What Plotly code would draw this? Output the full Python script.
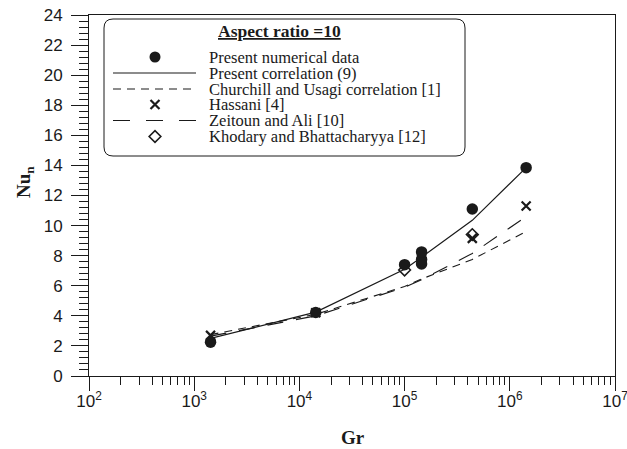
import plotly.graph_objects as go

# ---------------- data ----------------
gr_corr = [1.43e3, 1.43e4, 1.0e5, 1.45e5, 4.4e5, 1.43e6]
nu_present_corr = [2.5, 4.25, 7.1, 7.9, 10.35, 13.85]
nu_churchill = [2.75, 4.1, 5.95, 6.45, 7.75, 9.6]
nu_zeitoun = [2.65, 4.0, 5.9, 6.4, 8.15, 10.6]

gr_num = [1.43e3, 1.43e4, 1.0e5, 1.45e5, 1.45e5, 1.45e5, 4.4e5, 1.43e6]
nu_num = [2.25, 4.22, 7.4, 7.45, 7.75, 8.25, 11.1, 13.85]

gr_hassani = [1.43e3, 1.43e4, 1.45e5, 4.4e5, 1.43e6]
nu_hassani = [2.7, 4.2, 7.8, 9.15, 11.3]

gr_khodary = [1.0e5, 4.4e5]
nu_khodary = [7.05, 9.4]

x_tickvals = [1e2, 1e3, 1e4, 1e5, 1e6, 1e7]
x_ticktext = ["10<sup>2</sup>", "10<sup>3</sup>", "10<sup>4</sup>",
              "10<sup>5</sup>", "10<sup>6</sup>", "10<sup>7</sup>"]
y_tickvals = list(range(0, 25, 2))

legend_labels = ["Present numerical data", "Present correlation (9)",
                 "Churchill and Usagi correlation [1]", "Hassani [4]",
                 "Zeitoun and Ali [10]", "Khodary and Bhattacharyya [12]"]
legend_title = "Aspect ratio =10"

# ---------------- layout geometry ----------------
W, H = 627, 449
L, R, T, B = 89, 615, 15, 376  # plot area in pixels
INK = "#1a1a1a"
SERIF = "Liberation Serif"
SANS = "Liberation Sans"


def px_to_paper_x(px):
    return (px - L) / (R - L)


def px_to_paper_y(py):
    return (B - py) / (B - T)


fig = go.Figure()

# correlations
fig.add_trace(go.Scatter(x=gr_corr, y=nu_present_corr, mode="lines",
                         line=dict(color=INK, width=1.2), showlegend=False))
fig.add_trace(go.Scatter(x=gr_corr, y=nu_churchill, mode="lines",
                         line=dict(color=INK, width=1.1, dash="8px,6px"), showlegend=False))
fig.add_trace(go.Scatter(x=gr_corr, y=nu_zeitoun, mode="lines",
                         line=dict(color=INK, width=1.1, dash="16px,13px"), showlegend=False))
# data markers
fig.add_trace(go.Scatter(x=gr_hassani, y=nu_hassani, mode="markers",
                         marker=dict(symbol="x-thin-open", size=9, color=INK,
                                     line=dict(width=2.2, color=INK)),
                         showlegend=False))
fig.add_trace(go.Scatter(x=gr_khodary, y=nu_khodary, mode="markers",
                         marker=dict(symbol="diamond-open", size=9, color=INK,
                                     line=dict(width=1.6, color=INK)),
                         showlegend=False))
fig.add_trace(go.Scatter(x=gr_num, y=nu_num, mode="markers",
                         marker=dict(symbol="circle", size=11.5, color=INK,
                                     line=dict(width=0)),
                         showlegend=False))

# ---------------- custom legend (pixel-space overlay axes) ----------------
box_x0, box_x1, box_y0, box_y1, rad = 104, 465, 19, 156, 9
path = (f"M {box_x0+rad},{box_y0} L {box_x1-rad},{box_y0} Q {box_x1},{box_y0} {box_x1},{box_y0+rad} "
        f"L {box_x1},{box_y1-rad} Q {box_x1},{box_y1} {box_x1-rad},{box_y1} "
        f"L {box_x0+rad},{box_y1} Q {box_x0},{box_y1} {box_x0},{box_y1-rad} "
        f"L {box_x0},{box_y0+rad} Q {box_x0},{box_y0} {box_x0+rad},{box_y0} Z")
shapes = [dict(type="path", path=path, xref="x2", yref="y2",
               line=dict(color=INK, width=1), fillcolor="rgba(0,0,0,0)", layer="above")]

row_y = [57, 73, 89, 104.5, 120.5, 136.5]
sym_x0, sym_x1, sym_xc = 113, 196, 155
text_x = 207

# line samples
for yy, dash in [(row_y[1], "solid"), (row_y[2], "8px,6px"), (row_y[4], "17px,16px")]:
    fig.add_trace(go.Scatter(x=[sym_x0, sym_x1], y=[yy, yy], mode="lines",
                             xaxis="x2", yaxis="y2", cliponaxis=False,
                             line=dict(color=INK, width=1.1, dash=dash), showlegend=False))
# marker samples
fig.add_trace(go.Scatter(x=[sym_xc], y=[row_y[0]], mode="markers", xaxis="x2", yaxis="y2",
                         marker=dict(symbol="circle", size=11, color=INK), showlegend=False))
fig.add_trace(go.Scatter(x=[sym_xc], y=[row_y[3]], mode="markers", xaxis="x2", yaxis="y2",
                         marker=dict(symbol="x-thin-open", size=9, color=INK,
                                     line=dict(width=2.2, color=INK)), showlegend=False))
fig.add_trace(go.Scatter(x=[sym_xc], y=[row_y[5]], mode="markers", xaxis="x2", yaxis="y2",
                         marker=dict(symbol="diamond-open", size=9, color=INK,
                                     line=dict(width=1.6, color=INK)), showlegend=False))

annotations = []
for lab, yy in zip(legend_labels, row_y):
    annotations.append(dict(x=text_x, y=yy, xref="x2", yref="y2", text=lab,
                            showarrow=False, xanchor="left", yanchor="middle",
                            font=dict(family=SERIF, size=16.5, color=INK)))
annotations.append(dict(x=279, y=31, xref="x2", yref="y2",
                        text=f"<b><u>{legend_title}</u></b>", showarrow=False,
                        xanchor="center", yanchor="middle",
                        font=dict(family=SERIF, size=17.5, color=INK)))

# axis titles
annotations.append(dict(x=px_to_paper_x(353), y=px_to_paper_y(437), xref="paper", yref="paper",
                        text="<b>Gr</b>", showarrow=False, xanchor="center", yanchor="middle",
                        font=dict(family=SERIF, size=19, color=INK)))
annotations.append(dict(x=px_to_paper_x(25), y=px_to_paper_y(182), xref="paper", yref="paper",
                        text="<b>Nu<sub>n</sub></b>", showarrow=False, textangle=-90,
                        xanchor="center", yanchor="middle",
                        font=dict(family=SERIF, size=19, color=INK)))

x_minor = [k * 10 ** d for d in range(2, 7) for k in range(2, 10)]

fig.update_layout(
    width=W, height=H,
    margin=dict(l=L, r=W - R, t=T, b=H - B, pad=0, autoexpand=False),
    paper_bgcolor="white", plot_bgcolor="white",
    shapes=shapes, annotations=annotations,
    xaxis=dict(type="log", range=[2, 7], tickmode="array", tickvals=x_tickvals,
               ticktext=x_ticktext, ticks="outside", ticklen=14, tickwidth=1,
               tickcolor=INK, showline=True, linecolor=INK, linewidth=1, mirror=True,
               showgrid=False, zeroline=False, ticklabeloverflow="allow",
               automargin=False, ticklabelstandoff=-4,
               tickfont=dict(family=SANS, size=17, color=INK),
               minor=dict(tickmode="array", tickvals=x_minor, ticks="outside",
                          ticklen=8, tickwidth=1, tickcolor=INK, showgrid=False)),
    yaxis=dict(range=[0, 24], tickmode="array", tickvals=y_tickvals,
               ticks="outside", ticklen=17, tickwidth=1, tickcolor=INK,
               showline=True, linecolor=INK, linewidth=1, mirror=True,
               showgrid=False, zeroline=False, ticklabelstandoff=5,
               automargin=False, ticklabeloverflow="allow",
               tickfont=dict(family=SANS, size=17, color=INK),
               minor=dict(dtick=0.4, ticks="outside", ticklen=9, tickwidth=1,
                          tickcolor=INK, showgrid=False)),
    xaxis2=dict(overlaying="x", range=[L, R], visible=False, fixedrange=True),
    yaxis2=dict(overlaying="y", range=[B, T], visible=False, fixedrange=True),
)

fig.write_html("out.html")
